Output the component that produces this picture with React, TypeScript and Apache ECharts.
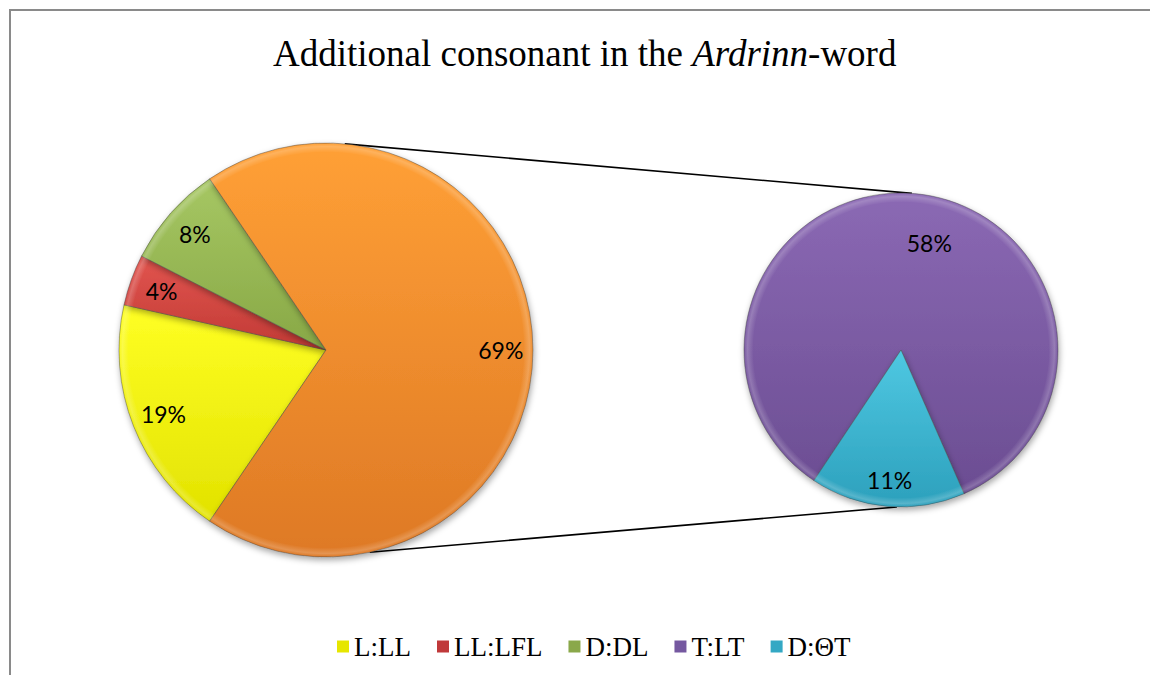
import React, { useEffect, useRef } from "react";
import * as echarts from "echarts";

// Primary pie: the three separate groups
const primaryNames = ["L:LL", "LL:LFL", "D:DL"];
const primaryValues = [19, 4, 8];
// Secondary pie: the groups folded into the large slice
const secondaryNames = ["T:LT", "D:ΘT"];
const secondaryValues = [58, 11];
const otherName = "Other";

const legendNames = [...primaryNames, ...secondaryNames];

// [top, bottom] gradient colours of each slice
const sliceColors: Record<string, [string, string]> = {
  "L:LL": ["#FFFF24", "#E2E200"],
  "LL:LFL": ["#E2554F", "#C13A35"],
  "D:DL": ["#A6C763", "#88A846"],
  Other: ["#FFA036", "#DE7925"],
  "T:LT": ["#8B69B4", "#6B4D92"],
  "D:ΘT": ["#4FC8E2", "#2CA0BC"],
};
const legendColors: Record<string, string> = {
  "L:LL": "#E6E600",
  "LL:LFL": "#C0393A",
  "D:DL": "#8AA84A",
  "T:LT": "#7558A0",
  "D:ΘT": "#33A8C4",
};

const W = 1150;
const H = 675;
const LEFT_C = [326, 350];
const LEFT_R = 207;
const RIGHT_C = [901, 350];
const RIGHT_R = 157;
const SERIF = "'Liberation Serif', 'Times New Roman', serif";
const SANS = "Lato, 'Open Sans', sans-serif";

const sum = (a: number[]) => a.reduce((s, v) => s + v, 0);

function grad(name: string) {
  const [a, b] = sliceColors[name];
  return {
    type: "linear",
    x: 0,
    y: 0,
    x2: 0,
    y2: 1,
    colorStops: [
      { offset: 0, color: a },
      { offset: 1, color: b },
    ],
  };
}

const sliceStyle = {
  borderColor: "rgba(70,70,70,0.45)",
  borderWidth: 1,
  shadowBlur: 6,
  shadowOffsetX: 1,
  shadowOffsetY: 3,
  shadowColor: "rgba(0,0,0,0.35)",
};

// soft bevelled rim laid over a whole pie
function rim(center: number[], r: number) {
  const w = 9;
  return {
    type: "pie",
    silent: true,
    z: 4,
    center,
    radius: [r - w, r - 0.5],
    label: { show: false },
    labelLine: { show: false },
    emphasis: { disabled: true },
    data: [
      {
        name: "rim",
        value: 1,
        itemStyle: {
          color: {
            type: "radial",
            x: 0.5,
            y: 0.5,
            r: 0.5,
            colorStops: [
              { offset: (r - w) / r, color: "rgba(255,255,255,0)" },
              { offset: (r - 3) / r, color: "rgba(255,255,255,0.2)" },
              { offset: 1, color: "rgba(255,255,255,0.02)" },
            ],
          },
        },
      },
    ],
  };
}

function pt(c: number[], r: number, deg: number) {
  const a = (deg * Math.PI) / 180;
  return [c[0] + r * Math.cos(a), c[1] - r * Math.sin(a)];
}

export default function App() {
  const ref = useRef<HTMLDivElement>(null);

  useEffect(() => {
    if (!ref.current) return;
    const chart = echarts.init(ref.current, undefined, { renderer: "svg" });

    const otherValue = sum(secondaryValues);
    const total = sum(primaryValues) + otherValue;
    // the folded slice is centred on the right-hand side of the primary pie
    const leftStart = 360 - (otherValue / total) * 180;
    // the smaller secondary slice sits just left of the bottom
    const firstSpan = (secondaryValues[0] / otherValue) * 360;
    const rightStart = (265 + (firstSpan + 360) / 2) % 360;

    const primaryData = [
      ...primaryNames.map((n, i) => ({ name: n, value: primaryValues[i] })),
      { name: otherName, value: otherValue },
    ];
    const secondaryData = secondaryNames.map((n, i) => ({
      name: n,
      value: secondaryValues[i],
    }));

    const labelStyle = {
      show: true,
      position: "inside",
      formatter: "{c}%",
      fontFamily: SANS,
      fontSize: 23,
      color: "#000",
    };

    const topA = pt(LEFT_C, LEFT_R, 84.8);
    const topB = pt(RIGHT_C, RIGHT_R, 86);
    const botA = pt(LEFT_C, LEFT_R, -77.8);
    const botB = pt(RIGHT_C, RIGHT_R, -91.5);

    chart.setOption({
      animation: false,
      title: {
        text: "{n|Additional consonant in the }{i|Ardrinn}{n|-word}",
        left: 268,
        top: 30,
        textStyle: {
          fontWeight: "normal",
          rich: {
            n: {
              fontFamily: SERIF,
              fontSize: 37,
              fontWeight: "normal",
              color: "#000",
            },
            i: {
              fontFamily: SERIF,
              fontSize: 37,
              fontWeight: "normal",
              fontStyle: "italic",
              color: "#000",
            },
          },
        },
      },
      legend: {
        data: legendNames.map((n) => ({
          name: n,
          itemStyle: { color: legendColors[n], borderWidth: 0 },
        })),
        top: 628,
        left: 332,
        icon: "rect",
        itemWidth: 12,
        itemHeight: 12,
        itemGap: 26,
        textStyle: { fontFamily: SERIF, fontSize: 27, color: "#000" },
      },
      graphic: [
        {
          type: "rect",
          z: 0,
          shape: { x: 10, y: 10, width: 1400, height: 900 },
          style: { fill: "none", stroke: "#8a8a8a", lineWidth: 2 },
          silent: true,
        },
        {
          type: "line",
          z: 0,
          shape: { x1: topA[0], y1: topA[1], x2: topB[0], y2: topB[1] },
          style: { stroke: "#000", lineWidth: 1.6 },
          silent: true,
        },
        {
          type: "line",
          z: 0,
          shape: { x1: botA[0], y1: botA[1], x2: botB[0], y2: botB[1] },
          style: { stroke: "#000", lineWidth: 1.6 },
          silent: true,
        },
      ],
      series: [
        {
          type: "pie",
          center: LEFT_C,
          radius: [0, LEFT_R],
          startAngle: leftStart,
          clockwise: true,
          avoidLabelOverlap: false,
          label: { show: false },
          labelLine: { show: false },
          emphasis: { disabled: true },
          data: primaryData.map((d) => ({
            ...d,
            itemStyle: { ...sliceStyle, color: grad(d.name) },
          })),
        },
        {
          type: "pie",
          center: RIGHT_C,
          radius: [0, RIGHT_R],
          startAngle: rightStart,
          clockwise: true,
          avoidLabelOverlap: false,
          label: { show: false },
          labelLine: { show: false },
          emphasis: { disabled: true },
          data: secondaryData.map((d) => ({
            ...d,
            itemStyle: { ...sliceStyle, color: grad(d.name) },
          })),
        },
        rim(LEFT_C, LEFT_R),
        rim(RIGHT_C, RIGHT_R),
        // transparent rings that carry the percentage labels
        {
          type: "pie",
          silent: true,
          z: 5,
          center: LEFT_C,
          radius: [LEFT_R * 0.66, LEFT_R],
          startAngle: leftStart,
          avoidLabelOverlap: false,
          itemStyle: { color: "rgba(0,0,0,0)" },
          label: labelStyle,
          labelLine: { show: false },
          emphasis: { disabled: true },
          data: primaryData,
        },
        {
          type: "pie",
          silent: true,
          z: 5,
          center: RIGHT_C,
          radius: [RIGHT_R * 0.62, RIGHT_R],
          startAngle: rightStart,
          avoidLabelOverlap: false,
          itemStyle: { color: "rgba(0,0,0,0)" },
          label: labelStyle,
          labelLine: { show: false },
          emphasis: { disabled: true },
          labelLayout: (p: any) =>
            p.dataIndex === 0 ? { dx: 17, dy: 23 } : {},
          data: secondaryData,
        },
      ],
    });

    return () => chart.dispose();
  }, []);

  return (
    <div
      ref={ref}
      style={{ position: "fixed", left: 0, top: 0, width: W, height: H, background: "#fff" }}
    />
  );
}
